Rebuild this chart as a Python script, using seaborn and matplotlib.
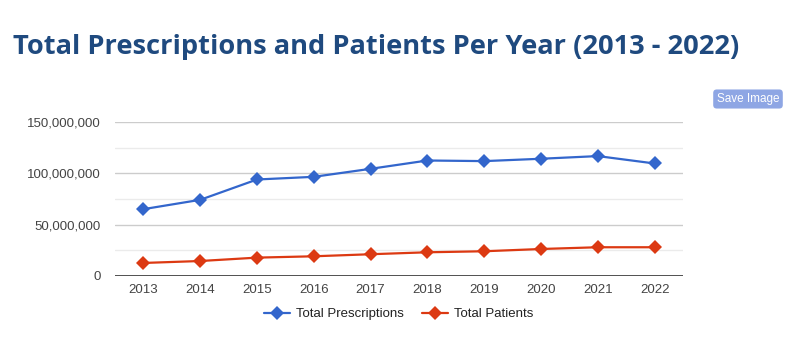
import matplotlib
matplotlib.use("Agg")
import matplotlib.pyplot as plt
import seaborn as sns
import pandas as pd
from matplotlib.ticker import FuncFormatter

years = [2013, 2014, 2015, 2016, 2017, 2018, 2019, 2020, 2021, 2022]
prescriptions = [65.1e6, 74.2e6, 94.0e6, 96.6e6, 104.4e6, 112.5e6, 111.9e6, 114.2e6, 116.8e6, 109.6e6]
patients = [12.7e6, 14.6e6, 17.9e6, 19.2e6, 21.2e6, 23.1e6, 24.1e6, 26.3e6, 28.0e6, 28.0e6]
series_names = ["Total Prescriptions", "Total Patients"]
colors = ["#3366cc", "#dc3912"]
yticks = [0, 50e6, 100e6, 150e6]

df = pd.DataFrame({
    "Year": years * 2,
    "Value": prescriptions + patients,
    "Series": [series_names[0]] * len(years) + [series_names[1]] * len(years),
})

sns.set_theme(style="white")
plt.rcParams["font.family"] = ["Liberation Sans", "DejaVu Sans"]

fig = plt.figure(figsize=(7.96, 3.54), dpi=100)
ax = fig.add_axes([115 / 796, 1 - 276 / 354, (683 - 115) / 796, (276 - 122) / 354])

# gridlines
for v in [25e6, 75e6, 125e6]:
    ax.axhline(v, color="#ebebeb", lw=1, zorder=0)
for v in [50e6, 100e6, 150e6]:
    ax.axhline(v, color="#cccccc", lw=1, zorder=0)
ax.axhline(0, color="#333333", lw=1.2, zorder=1)

sns.lineplot(data=df, x="Year", y="Value", hue="Series", palette=colors,
             marker="D", markersize=7, markeredgewidth=0, linewidth=1.6,
             ax=ax, legend=True, zorder=3)

ax.set_xlim(2012.5, 2022.5)
ax.set_ylim(0, 150e6)
ax.set_xticks(years)
ax.set_xticklabels([str(y) for y in years])
ax.set_yticks(yticks)
ax.yaxis.set_major_formatter(FuncFormatter(lambda v, p: f"{int(v):,}"))
ax.tick_params(axis="both", length=0, labelsize=9.5, labelcolor="#444444")
ax.tick_params(axis="x", pad=6)
ax.tick_params(axis="y", pad=10)
ax.set_xlabel("")
ax.set_ylabel("")
for s in ax.spines.values():
    s.set_visible(False)

leg = ax.legend(loc="upper center", bbox_to_anchor=(0.5, -0.13), ncol=2,
                frameon=False, fontsize=9.5, handlelength=1.9, columnspacing=1.4,
                handletextpad=0.5)
for t in leg.get_texts():
    t.set_color("#222222")

fig.text(13 / 796, 1 - 47 / 354, "Total Prescriptions and Patients Per Year (2013 - 2022)",
         fontsize=19.6, fontweight="bold", color="#1f4a7f", family="Open Sans",
         va="center", ha="left")

fig.text(748 / 796, 1 - 99 / 354, "Save Image", fontsize=8.5, color="white",
         ha="center", va="center",
         bbox=dict(boxstyle="round,pad=0.3,rounding_size=0.3", fc="#8ea6e4", ec="none"))

fig.savefig("out.png", dpi=100, facecolor="white")
